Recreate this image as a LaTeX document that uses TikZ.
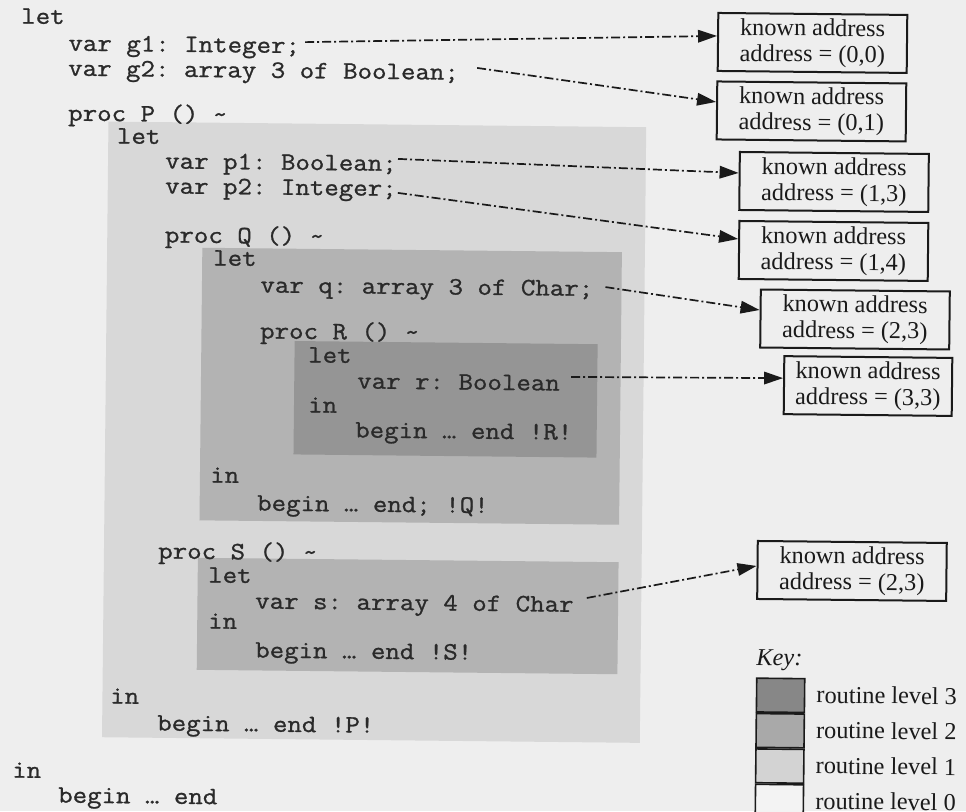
\documentclass[tikz,border=0pt]{standalone}
\usepackage{fontspec}
\setmainfont{Liberation Serif}
\setmonofont{Latin Modern Mono}[FakeStretch=1.124,FakeBold=1.0]
\usetikzlibrary{arrows.meta}
\definecolor{pagebg}{HTML}{EEEEEE}
\definecolor{lvA}{HTML}{D8D8D8}
\definecolor{lvB}{HTML}{B3B3B3}
\definecolor{lvC}{HTML}{959595}
\definecolor{keyA}{HTML}{D3D3D3}
\definecolor{keyB}{HTML}{A9A9A9}
\definecolor{keyC}{HTML}{878787}
\definecolor{keyZ}{HTML}{F3F3F3}
\definecolor{codegray}{HTML}{2A2A2A}
\definecolor{inkgray}{HTML}{1A1A1A}
\begin{document}
\begin{tikzpicture}[x=1pt,y=-1pt,
  code/.style={anchor=base west, inner sep=0pt, text=codegray,
    font=\ttfamily\fontsize{25pt}{25pt}\selectfont},
  addrbox/.style={draw=inkgray, line width=2pt, fill=pagebg, text=inkgray,
    minimum width=189pt, minimum height=58pt, inner sep=0pt, align=center,
    font=\fontsize{24.3pt}{26pt}\selectfont},
  keylabel/.style={anchor=west, inner sep=0pt, text=inkgray,
    font=\fontsize{24.3pt}{26pt}\selectfont},
  swatch/.style={draw=inkgray, line width=1.6pt, minimum width=48pt,
    minimum height=33.8pt, inner sep=0pt, anchor=north west},
  arr/.style={draw=inkgray, line width=1.7pt,
    dash pattern=on 9pt off 3pt on 2pt off 3pt,
    -{Triangle[length=19pt,width=12.5pt]}}]
\fill[pagebg] (0,0) rectangle (966,811);
\useasboundingbox (0,0) rectangle (966,811);
\begin{scope}[rotate around={-0.6:(483,405)}, transform shape]
% routine level regions
\fill[lvA] (105.5,125.5) rectangle (643.3,741.2);
\fill[lvB] (200.7,250.7) rectangle (620.3,523.3);
\fill[lvC] (294,343) rectangle (597,456.4);
\fill[lvB] (199.5,560.8) rectangle (620.2,672.8);
% code
\node[code] (c1)  at (17,28.4)    {let};
\node[code] (cg1) at (64.5,55)    {var g1: Integer;};
\node[code] (cg2) at (64.5,80)    {var g2: array 3 of Boolean;};
\node[code] (cP)  at (65,125)     {proc P () \textasciitilde};
\node[code] (cP1) at (114,147.3)  {let};
\node[code] (cp1) at (162.5,171.8) {var p1: Boolean;};
\node[code] (cp2) at (162.7,196.8) {var p2: Integer;};
\node[code] (cQ)  at (163,245.8)  {proc Q () \textasciitilde};
\node[code] (cQ1) at (211.5,268.3) {let};
\node[code] (cq)  at (259,294.8)  {var q: array 3 of Char;};
\node[code] (cR)  at (259.2,340.8) {proc R () \textasciitilde};
\node[code] (cR1) at (307.5,364.3) {let};
\node[code] (cr)  at (356.8,389.8) {var r: Boolean};
\node[code] (cR2) at (308,414.3)  {in};
\node[code] (cR3) at (355.3,438.8) {begin … end !R!};
\node[code] (cQ2) at (210.8,485.4) {in};
\node[code] (cQ3) at (258,512.9)  {begin … end; !Q!};
\node[code] (cS)  at (159.6,561.9) {proc S () \textasciitilde};
\node[code] (cS1) at (209.8,585.4) {let};
\node[code] (cs)  at (257.1,610.9) {var s: array 4 of Char};
\node[code] (cS2) at (210.3,631.4) {in};
\node[code] (cS3) at (257.6,659.9) {begin … end !S!};
\node[code] (cP2) at (113.1,707.4) {in};
\node[code] (cP3) at (160.4,733.9) {begin … end !P!};
\node[code] (c2)  at (15.9,782.5) {in};
\node[code] (c3)  at (62.1,807)   {begin … end};
% address boxes
\node[addrbox] (B1) at (808.7,39.5)  {known address\\address = (0,0)};
\node[addrbox] (B2) at (808.4,108)   {known address\\address = (0,1)};
\node[addrbox] (B3) at (831.7,178.3) {known address\\address = (1,3)};
\node[addrbox] (B4) at (831.9,247.3) {known address\\address = (1,4)};
\node[addrbox] (B5) at (854.1,315.6) {known address\\address = (2,3)};
\node[addrbox, minimum width=168pt] (B6) at (867.8,382) {known address\\address = (3,3)};
\node[addrbox] (B7) at (853.7,567.1) {known address\\address = (2,3)};
% arrows
\draw[arr] ([xshift=5pt,yshift=11pt]cg1.base east) -- ([yshift=6pt]B1.west);
\draw[arr] ([xshift=18pt,yshift=12pt]cg2.base east) -- ([yshift=8.5pt]B2.west);
\draw[arr] ([xshift=1pt,yshift=12pt]cp1.base east) -- ([yshift=8pt]B3.west);
\draw[arr] ([xshift=1pt,yshift=3pt]cp2.base east) -- ([yshift=11pt]B4.west);
\draw[arr] ([xshift=12pt,yshift=9pt]cq.base east) -- ([yshift=8.5pt]B5.west);
\draw[arr] ([xshift=11pt,yshift=13.8pt]cr.base east) -- ([yshift=7pt]B6.west);
\draw[arr] ([xshift=13pt,yshift=14pt]cs.base east) -- ([yshift=4pt]B7.west);
% key
\node[anchor=west, inner sep=0pt, text=inkgray,
  font=\itshape\fontsize{24.3pt}{26pt}\selectfont] (key) at (759,657) {Key:};
\node[swatch, fill=keyC] (k3) at (758.8,674.5) {};
\node[swatch, fill=keyB] (k2) at (k3.south west) {};
\node[swatch, fill=keyA] (k1) at (k2.south west) {};
\node[swatch, fill=keyZ] (k0) at (k1.south west) {};
\node[keylabel] (l3) at ([xshift=11pt,yshift=1pt]k3.east) {routine level 3};
\node[keylabel] (l2) at ([xshift=11pt,yshift=1pt]k2.east) {routine level 2};
\node[keylabel] (l1) at ([xshift=11pt,yshift=1pt]k1.east) {routine level 1};
\node[keylabel] (l0) at ([xshift=11pt,yshift=1pt]k0.east) {routine level 0};
\end{scope}
\end{tikzpicture}
\end{document}
